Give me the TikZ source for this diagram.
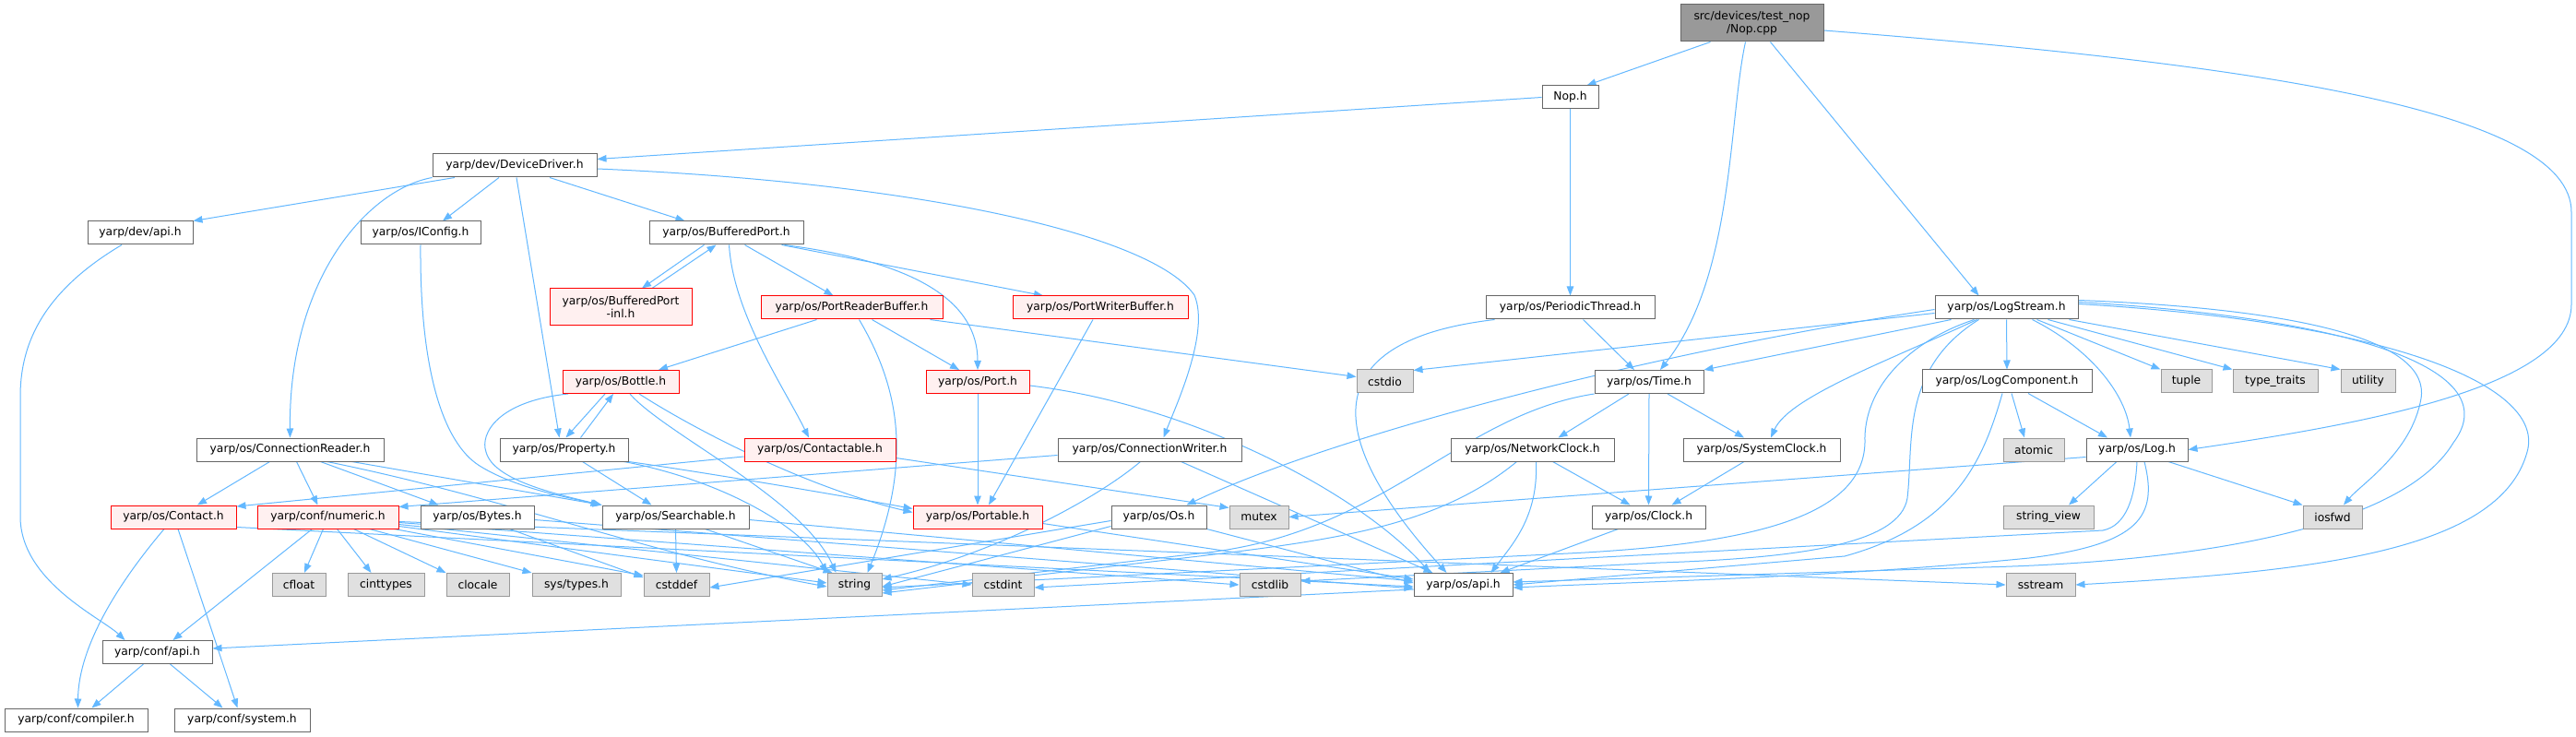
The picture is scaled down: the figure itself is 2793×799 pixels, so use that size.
\documentclass[tikz,border=0pt]{standalone}
\usepackage{fontspec}
\setmainfont{DejaVu Sans}
\usetikzlibrary{arrows.meta}
\pgfdeclarelayer{bg}
\pgfdeclarelayer{edges}
\pgfsetlayers{bg,edges,main}
\definecolor{edgec}{HTML}{63B8FF}
\definecolor{boxd}{HTML}{666666}
\definecolor{redd}{HTML}{FF0000}
\definecolor{redf}{HTML}{FFF0F0}
\definecolor{extf}{HTML}{E0E0E0}
\definecolor{extd}{HTML}{999999}
\definecolor{rootf}{HTML}{999999}
\begin{document}
\begin{tikzpicture}[x=1pt,y=-1pt,
  nbox/.style={draw=boxd, fill=white, line width=1pt, minimum height=25pt, inner sep=1pt, font=\fontsize{12.3}{14}\selectfont, align=center},
  redbox/.style={nbox, draw=redd, fill=redf},
  extbox/.style={nbox, draw=extd, fill=extf},
  rootbox/.style={nbox, fill=rootf},
  dep/.style={draw=edgec, line width=1pt, -{Triangle[length=10pt,width=7.5pt]}}]
\begin{pgfonlayer}{bg}
\fill[white] (0,0) rectangle (2793,799);
\end{pgfonlayer}
\useasboundingbox (0,0) rectangle (2793,799);
% nodes
\node[rootbox, minimum width=155pt, minimum height=40pt] (nopcpp) at (1899.5,25) {src/devices/test\_nop\\/Nop.cpp};
\node[nbox, minimum width=61pt] (noph) at (1702.5,105.5) {Nop.h};
\node[nbox, minimum width=178pt] (devdrv) at (558,179.5) {yarp/dev/DeviceDriver.h};
\node[nbox, minimum width=114pt] (devapi) at (152,252.5) {yarp/dev/api.h};
\node[nbox, minimum width=130pt] (iconfig) at (456,252.5) {yarp/os/IConfig.h};
\node[nbox, minimum width=167pt] (bufport) at (787.5,252.5) {yarp/os/BufferedPort.h};
\node[redbox, minimum width=154pt, minimum height=40pt] (bufportinl) at (673,333) {yarp/os/BufferedPort\\-inl.h};
\node[redbox, minimum width=197pt] (portreader) at (923.5,333.5) {yarp/os/PortReaderBuffer.h};
\node[redbox, minimum width=190pt] (portwriter) at (1193,333.5) {yarp/os/PortWriterBuffer.h};
\node[nbox, minimum width=183pt] (periodic) at (1702.5,333.5) {yarp/os/PeriodicThread.h};
\node[nbox, minimum width=155pt] (logstream) at (2175.5,333.5) {yarp/os/LogStream.h};
\node[redbox, minimum width=126pt] (bottle) at (673,414) {yarp/os/Bottle.h};
\node[redbox, minimum width=112pt] (port) at (1060,414) {yarp/os/Port.h};
\node[extbox, minimum width=61pt] (cstdio) at (1501.5,413.5) {cstdio};
\node[nbox, minimum width=118pt] (time) at (1788,414) {yarp/os/Time.h};
\node[nbox, minimum width=184pt] (logcomp) at (2176,413.5) {yarp/os/LogComponent.h};
\node[extbox, minimum width=55pt] (tuple) at (2370.5,413.5) {tuple};
\node[extbox, minimum width=92pt] (typetraits) at (2467,413.5) {type\_traits};
\node[extbox, minimum width=59pt] (utility) at (2567.5,413.5) {utility};
\node[nbox, minimum width=203pt] (connreader) at (314.5,487.5) {yarp/os/ConnectionReader.h};
\node[nbox, minimum width=139pt] (property) at (611.5,487.5) {yarp/os/Property.h};
\node[redbox, minimum width=164pt] (contactable) at (889,487.5) {yarp/os/Contactable.h};
\node[nbox, minimum width=199pt] (connwriter) at (1246.5,487.5) {yarp/os/ConnectionWriter.h};
\node[nbox, minimum width=177pt] (networkclock) at (1661.5,487.5) {yarp/os/NetworkClock.h};
\node[nbox, minimum width=170pt] (systemclock) at (1910,487.5) {yarp/os/SystemClock.h};
\node[extbox, minimum width=66pt] (atomic) at (2205,487.5) {atomic};
\node[nbox, minimum width=110pt] (log) at (2317,487.5) {yarp/os/Log.h};
\node[redbox, minimum width=136pt] (contact) at (188,560.5) {yarp/os/Contact.h};
\node[redbox, minimum width=153pt] (numeric) at (355.5,560.5) {yarp/conf/numeric.h};
\node[nbox, minimum width=123pt] (bytes) at (517.5,560.5) {yarp/os/Bytes.h};
\node[nbox, minimum width=159pt] (searchable) at (732.5,560.5) {yarp/os/Searchable.h};
\node[redbox, minimum width=140pt] (portable) at (1060,560.5) {yarp/os/Portable.h};
\node[nbox, minimum width=103pt] (os) at (1256.5,560.5) {yarp/os/Os.h};
\node[extbox, minimum width=64pt] (mutex) at (1365,560.5) {mutex};
\node[nbox, minimum width=123pt] (clock) at (1787.5,560.5) {yarp/os/Clock.h};
\node[extbox, minimum width=98pt] (stringview) at (2221,560.5) {string\_view};
\node[extbox, minimum width=64pt] (iosfwd) at (2529,560.5) {iosfwd};
\node[extbox, minimum width=58pt] (cfloat) at (324,634) {cfloat};
\node[extbox, minimum width=83pt] (cinttypes) at (418.5,634) {cinttypes};
\node[extbox, minimum width=68pt] (clocale) at (518,634) {clocale};
\node[extbox, minimum width=96pt] (systypes) at (625,634) {sys/types.h};
\node[extbox, minimum width=71pt] (cstddef) at (733.5,634) {cstddef};
\node[extbox, minimum width=59pt] (string) at (926.5,634) {string};
\node[extbox, minimum width=67pt] (cstdint) at (1087.5,634) {cstdint};
\node[extbox, minimum width=66pt] (cstdlib) at (1377,634) {cstdlib};
\node[nbox, minimum width=107pt] (osapi) at (1586.5,634) {yarp/os/api.h};
\node[extbox, minimum width=75pt] (sstream) at (2212.5,634) {sstream};
\node[nbox, minimum width=119pt] (confapi) at (170.5,707) {yarp/conf/api.h};
\node[nbox, minimum width=155pt] (compiler) at (82.5,780.5) {yarp/conf/compiler.h};
\node[nbox, minimum width=147pt] (system) at (262.5,780.5) {yarp/conf/system.h};
% edges
\begin{pgfonlayer}{edges}
% Nop.cpp
\draw[dep] ([xshift=-45pt]nopcpp.south) -- ([xshift=18pt]noph.north);
\draw[dep] ([xshift=-7pt]nopcpp.south) .. controls (1874,130) and (1880,300) .. ([xshift=12pt]time.north);
\draw[dep] ([xshift=20pt]nopcpp.south) -- ([xshift=-30pt]logstream.north);
\draw[dep] ([yshift=-8pt]nopcpp.east) .. controls (2450,70) and (2788,120) .. (2788,230) -- (2788,330) .. controls (2788,420) and (2560,460) .. (log.east);
% Nop.h
\draw[dep] (noph.west) -- ([yshift=7pt]devdrv.east);
\draw[dep] (noph.south) -- (periodic.north);
% DeviceDriver
\draw[dep] ([xshift=-65pt]devdrv.south) -- (devapi.north east);
\draw[dep] (devdrv.south west) .. controls (400,205) and (313,300) .. (connreader.north);
\draw[dep] ([xshift=-17pt]devdrv.south) -- ([xshift=24pt]iconfig.north);
\draw[dep] ([xshift=2pt]devdrv.south) -- ([xshift=-5pt]property.north);
\draw[dep] ([xshift=38pt]devdrv.south) -- ([xshift=-45pt]bufport.north);
\draw[dep] ([yshift=-3.5pt]devdrv.east) .. controls (1000,198) and (1250,255) .. (1295,320) .. controls (1312,360) and (1275,440) .. ([xshift=15pt]connwriter.north);
\draw[dep] ([xshift=-20pt]devapi.south) .. controls (40,320) and (22,380) .. (22,430) -- (22,560) .. controls (22,630) and (110,670) .. ([xshift=-35pt]confapi.north);
\draw[dep] (iconfig.south) .. controls (455,400) and (480,480) .. (520,505) .. controls (560,530) and (620,540) .. ([xshift=-82pt]searchable.north);
% BufferedPort
\draw[dep] ([xshift=-24pt]bufport.south) -- ([xshift=23pt]bufportinl.north);
\draw[dep] ([xshift=34pt]bufportinl.north) -- ([xshift=-11pt]bufport.south);
\draw[dep] ([xshift=20pt]bufport.south) -- ([xshift=-20pt]portreader.north);
\draw[dep] ([xshift=60pt]bufport.south) -- ([xshift=-62pt]portwriter.north);
\draw[dep] ([xshift=63pt]bufport.south) .. controls (1000,285) and (1060,330) .. (port.north);
\draw[dep] ([xshift=3pt]bufport.south) .. controls (795,340) and (850,420) .. ([xshift=-12pt]contactable.north);
% PortReaderBuffer
\draw[dep] ([xshift=-38pt]portreader.south) -- ([xshift=41pt]bottle.north);
\draw[dep] ([xshift=22pt]portreader.south) -- ([xshift=-20pt]port.north);
\draw[dep] ([xshift=8pt]portreader.south) .. controls (975,420) and (990,500) .. ([xshift=14pt]string.north);
\draw[dep] ([xshift=85pt]portreader.south) -- ([yshift=5pt]cstdio.west);
\draw[dep] ([xshift=-8pt]portwriter.south) -- ([xshift=12pt]portable.north);
% Port
\draw[dep] (port.south) -- (portable.north);
\draw[dep] ([yshift=-4pt]port.east) .. controls (1300,440) and (1480,540) .. ([xshift=-36pt]osapi.north);
% Bottle / Property
\draw[dep] ([xshift=-17pt]bottle.south) -- ([xshift=2pt]property.north);
\draw[dep] ([xshift=18pt]property.north) -- ([xshift=-8pt]bottle.south);
\draw[dep] ([xshift=-57pt]bottle.south) .. controls (540,435) and (520,470) .. (527,490) .. controls (535,520) and (600,535) .. ([xshift=-80pt]searchable.north);
\draw[dep] ([xshift=10pt]bottle.south) .. controls (720,470) and (870,540) .. ([xshift=-20pt]string.north);
\draw[dep] ([xshift=20pt]bottle.south) .. controls (760,470) and (880,530) .. ([yshift=5pt]portable.west);
\draw[dep] ([xshift=20pt]property.south) -- ([xshift=-26pt]searchable.north);
\draw[dep] (property.south east) .. controls (750,510) and (900,535) .. ([yshift=9pt]portable.west);
\draw[dep] ([xshift=-5pt]property.south east) .. controls (780,520) and (870,570) .. (string.north west);
% Contactable
\draw[dep] ([yshift=-7.5pt]contactable.west) -- ([yshift=11.5pt]contact.east);
\draw[dep] ([yshift=-9pt]contactable.east) -- ([yshift=10pt]mutex.west);
% ConnectionWriter
\draw[dep] ([yshift=-6pt]connwriter.west) -- ([yshift=11pt]numeric.east);
\draw[dep] ([xshift=-10pt]connwriter.south) .. controls (1190,540) and (1080,600) .. ([yshift=6pt]string.east);
\draw[dep] ([xshift=34pt]connwriter.south) -- ([xshift=-33pt]osapi.north);
% ConnectionReader
\draw[dep] ([xshift=-22pt]connreader.south) -- ([xshift=26pt]contact.north);
\draw[dep] ([xshift=7pt]connreader.south) -- ([xshift=-11pt]numeric.north);
\draw[dep] ([xshift=33pt]connreader.south) -- ([xshift=-42pt]bytes.north);
\draw[dep] ([xshift=67pt]connreader.south) -- ([xshift=-80pt]searchable.north);
\draw[dep] ([xshift=40pt]connreader.south) .. controls (550,540) and (700,600) .. ([yshift=-2pt]string.west);
% Contact
\draw[dep] ([xshift=-10pt]contact.south) .. controls (130,630) and (85,700) .. ([xshift=2pt]compiler.north);
\draw[dep] ([xshift=5pt]contact.south) -- ([xshift=-5pt]system.north);
\draw[dep] ([yshift=-11pt]contact.east) -- ([yshift=-2pt]osapi.west);
% numeric
\draw[dep] ([xshift=-17pt]numeric.south) -- ([xshift=17pt]confapi.north);
\draw[dep] ([xshift=-5pt]numeric.south) -- ([xshift=6pt]cfloat.north);
\draw[dep] ([xshift=10pt]numeric.south) -- ([xshift=-16pt]cinttypes.north);
\draw[dep] ([xshift=28pt]numeric.south) -- (clocale.north west);
\draw[dep] ([xshift=45pt]numeric.south) -- (systypes.north west);
\draw[dep] ([xshift=-5pt]numeric.south east) -- ([yshift=10pt]cstddef.west);
\draw[dep] ([yshift=3pt]numeric.south east) -- ([yshift=2pt]string.west);
\draw[dep] ([yshift=5pt]numeric.south east) -- (cstdint.west);
\draw[dep] ([yshift=7pt]numeric.south east) -- (cstdlib.west);
\draw[dep] ([yshift=8pt]numeric.south east) -- (sstream.west);
% Bytes
\draw[dep] ([xshift=35pt]bytes.south) -- ([yshift=8pt]cstddef.west);
\draw[dep] ([yshift=-3pt]bytes.east) -- ([yshift=-4pt]osapi.west);
% Searchable
\draw[dep] (searchable.south) -- (cstddef.north);
\draw[dep] ([xshift=32pt]searchable.south) -- ([xshift=-24pt]string.north);
\draw[dep] ([yshift=-3pt]searchable.east) -- ([yshift=4pt]osapi.west);
% Portable
\draw[dep] ([yshift=-7pt]portable.east) -- ([yshift=6pt]osapi.west);
% Os
\draw[dep] ([yshift=-4pt]os.west) -- ([yshift=-3pt]cstddef.east);
\draw[dep] ([yshift=-10pt]os.west) -- ([yshift=-2pt]string.east);
\draw[dep] (os.south east) -- ([yshift=2pt]osapi.west);
% PeriodicThread
\draw[dep] ([xshift=14pt]periodic.south) -- ([xshift=-16pt]time.north);
\draw[dep] ([xshift=-82pt]periodic.south) .. controls (1420,370) and (1440,480) .. ([xshift=-18pt]osapi.north);
% Time
\draw[dep] ([xshift=-22pt]time.south) -- ([xshift=28pt]networkclock.north);
\draw[dep] (time.south) -- (clock.north);
\draw[dep] ([xshift=20pt]time.south) -- ([xshift=-19pt]systemclock.north);
\draw[dep] (time.south west) .. controls (1580,450) and (1500,580) .. (1300,600) -- ([yshift=-6pt]string.east);
% NetworkClock
\draw[dep] ([xshift=22pt]networkclock.south) -- ([xshift=-20pt]clock.north);
\draw[dep] ([xshift=4pt]networkclock.south) .. controls (1668,560) and (1640,590) .. ([xshift=30pt]osapi.north);
\draw[dep] ([xshift=-17pt]networkclock.south) .. controls (1560,570) and (1450,585) .. (1300,603) -- ([yshift=-9pt]string.east);
\draw[dep] ([xshift=-19pt]systemclock.south) -- ([xshift=25pt]clock.north);
\draw[dep] ([xshift=-33pt]clock.south) -- ([xshift=40pt]osapi.north);
% LogStream
\draw[dep] ([yshift=-6pt]logstream.west) -- ([yshift=12pt]cstdio.east);
\draw[dep] ([xshift=-60pt]logstream.south) -- (time.north east);
\draw[dep] ([yshift=-2pt]logstream.west) .. controls (1800,380) and (1450,470) .. ([xshift=30pt]os.north);
\draw[dep] ([xshift=-32pt]logstream.south) .. controls (2050,390) and (1940,430) .. ([xshift=10pt]systemclock.north);
\draw[dep] ([xshift=-35pt]logstream.south) .. controls (2070,370) and (2020,420) .. (2022,480) .. controls (2020,560) and (1900,590) .. (1700,600) -- ([yshift=-3pt]string.east);
\draw[dep] ([xshift=-30pt]logstream.south) .. controls (2060,400) and (2075,480) .. (2068,540) .. controls (2060,590) and (1950,605) .. (1800,610) -- ([yshift=4pt]cstdlib.east);
\draw[dep] (logstream.south) -- (logcomp.north);
\draw[dep] ([xshift=28pt]logstream.south) .. controls (2270,380) and (2305,430) .. ([xshift=-7pt]log.north);
\draw[dep] ([xshift=33pt]logstream.south) -- (tuple.north west);
\draw[dep] ([xshift=45pt]logstream.south) -- (typetraits.north west);
\draw[dep] ([xshift=68pt]logstream.south) -- (utility.north west);
\draw[dep] ([yshift=8pt]logstream.east) .. controls (2500,335) and (2635,370) .. (2625,432) .. controls (2615,490) and (2560,525) .. ([xshift=12pt]iosfwd.north);
\draw[dep] ([yshift=6pt]logstream.east) .. controls (2550,345) and (2720,400) .. (2660,480) .. controls (2600,580) and (2350,610) .. (2150,615) -- ([yshift=3pt]osapi.east);
\draw[dep] ([yshift=4pt]logstream.east) .. controls (2600,350) and (2760,420) .. (2740,490) .. controls (2710,600) and (2500,620) .. (sstream.east);
% LogComponent
\draw[dep] ([xshift=5pt]logcomp.south) -- ([xshift=-10pt]atomic.north);
\draw[dep] ([xshift=23pt]logcomp.south) -- ([xshift=-32pt]log.north);
\draw[dep] ([xshift=-5pt]logcomp.south) .. controls (2150,500) and (2120,570) .. (2000,603) -- (osapi.east);
% Log
\draw[dep] ([xshift=-22pt]log.south) -- ([xshift=22pt]stringview.north);
\draw[dep] ([xshift=34pt]log.south) -- (iosfwd.north west);
\draw[dep] ([yshift=-8pt]log.west) -- (mutex.east);
\draw[dep] (log.south) .. controls (2315,540) and (2305,570) .. (2280,575) -- ([yshift=-3pt]cstdint.east);
\draw[dep] ([xshift=8pt]log.south) .. controls (2340,560) and (2320,590) .. (2200,605) .. controls (2000,625) and (1800,630) .. ([yshift=-3pt]osapi.east);
% api
\draw[dep] ([yshift=-5pt]osapi.west) -- ([yshift=4pt]confapi.east);
\draw[dep] ([xshift=-15pt]confapi.south) -- ([xshift=17pt]compiler.north);
\draw[dep] ([xshift=14pt]confapi.south) -- ([xshift=-21pt]system.north);
\end{pgfonlayer}
\end{tikzpicture}
\end{document}
